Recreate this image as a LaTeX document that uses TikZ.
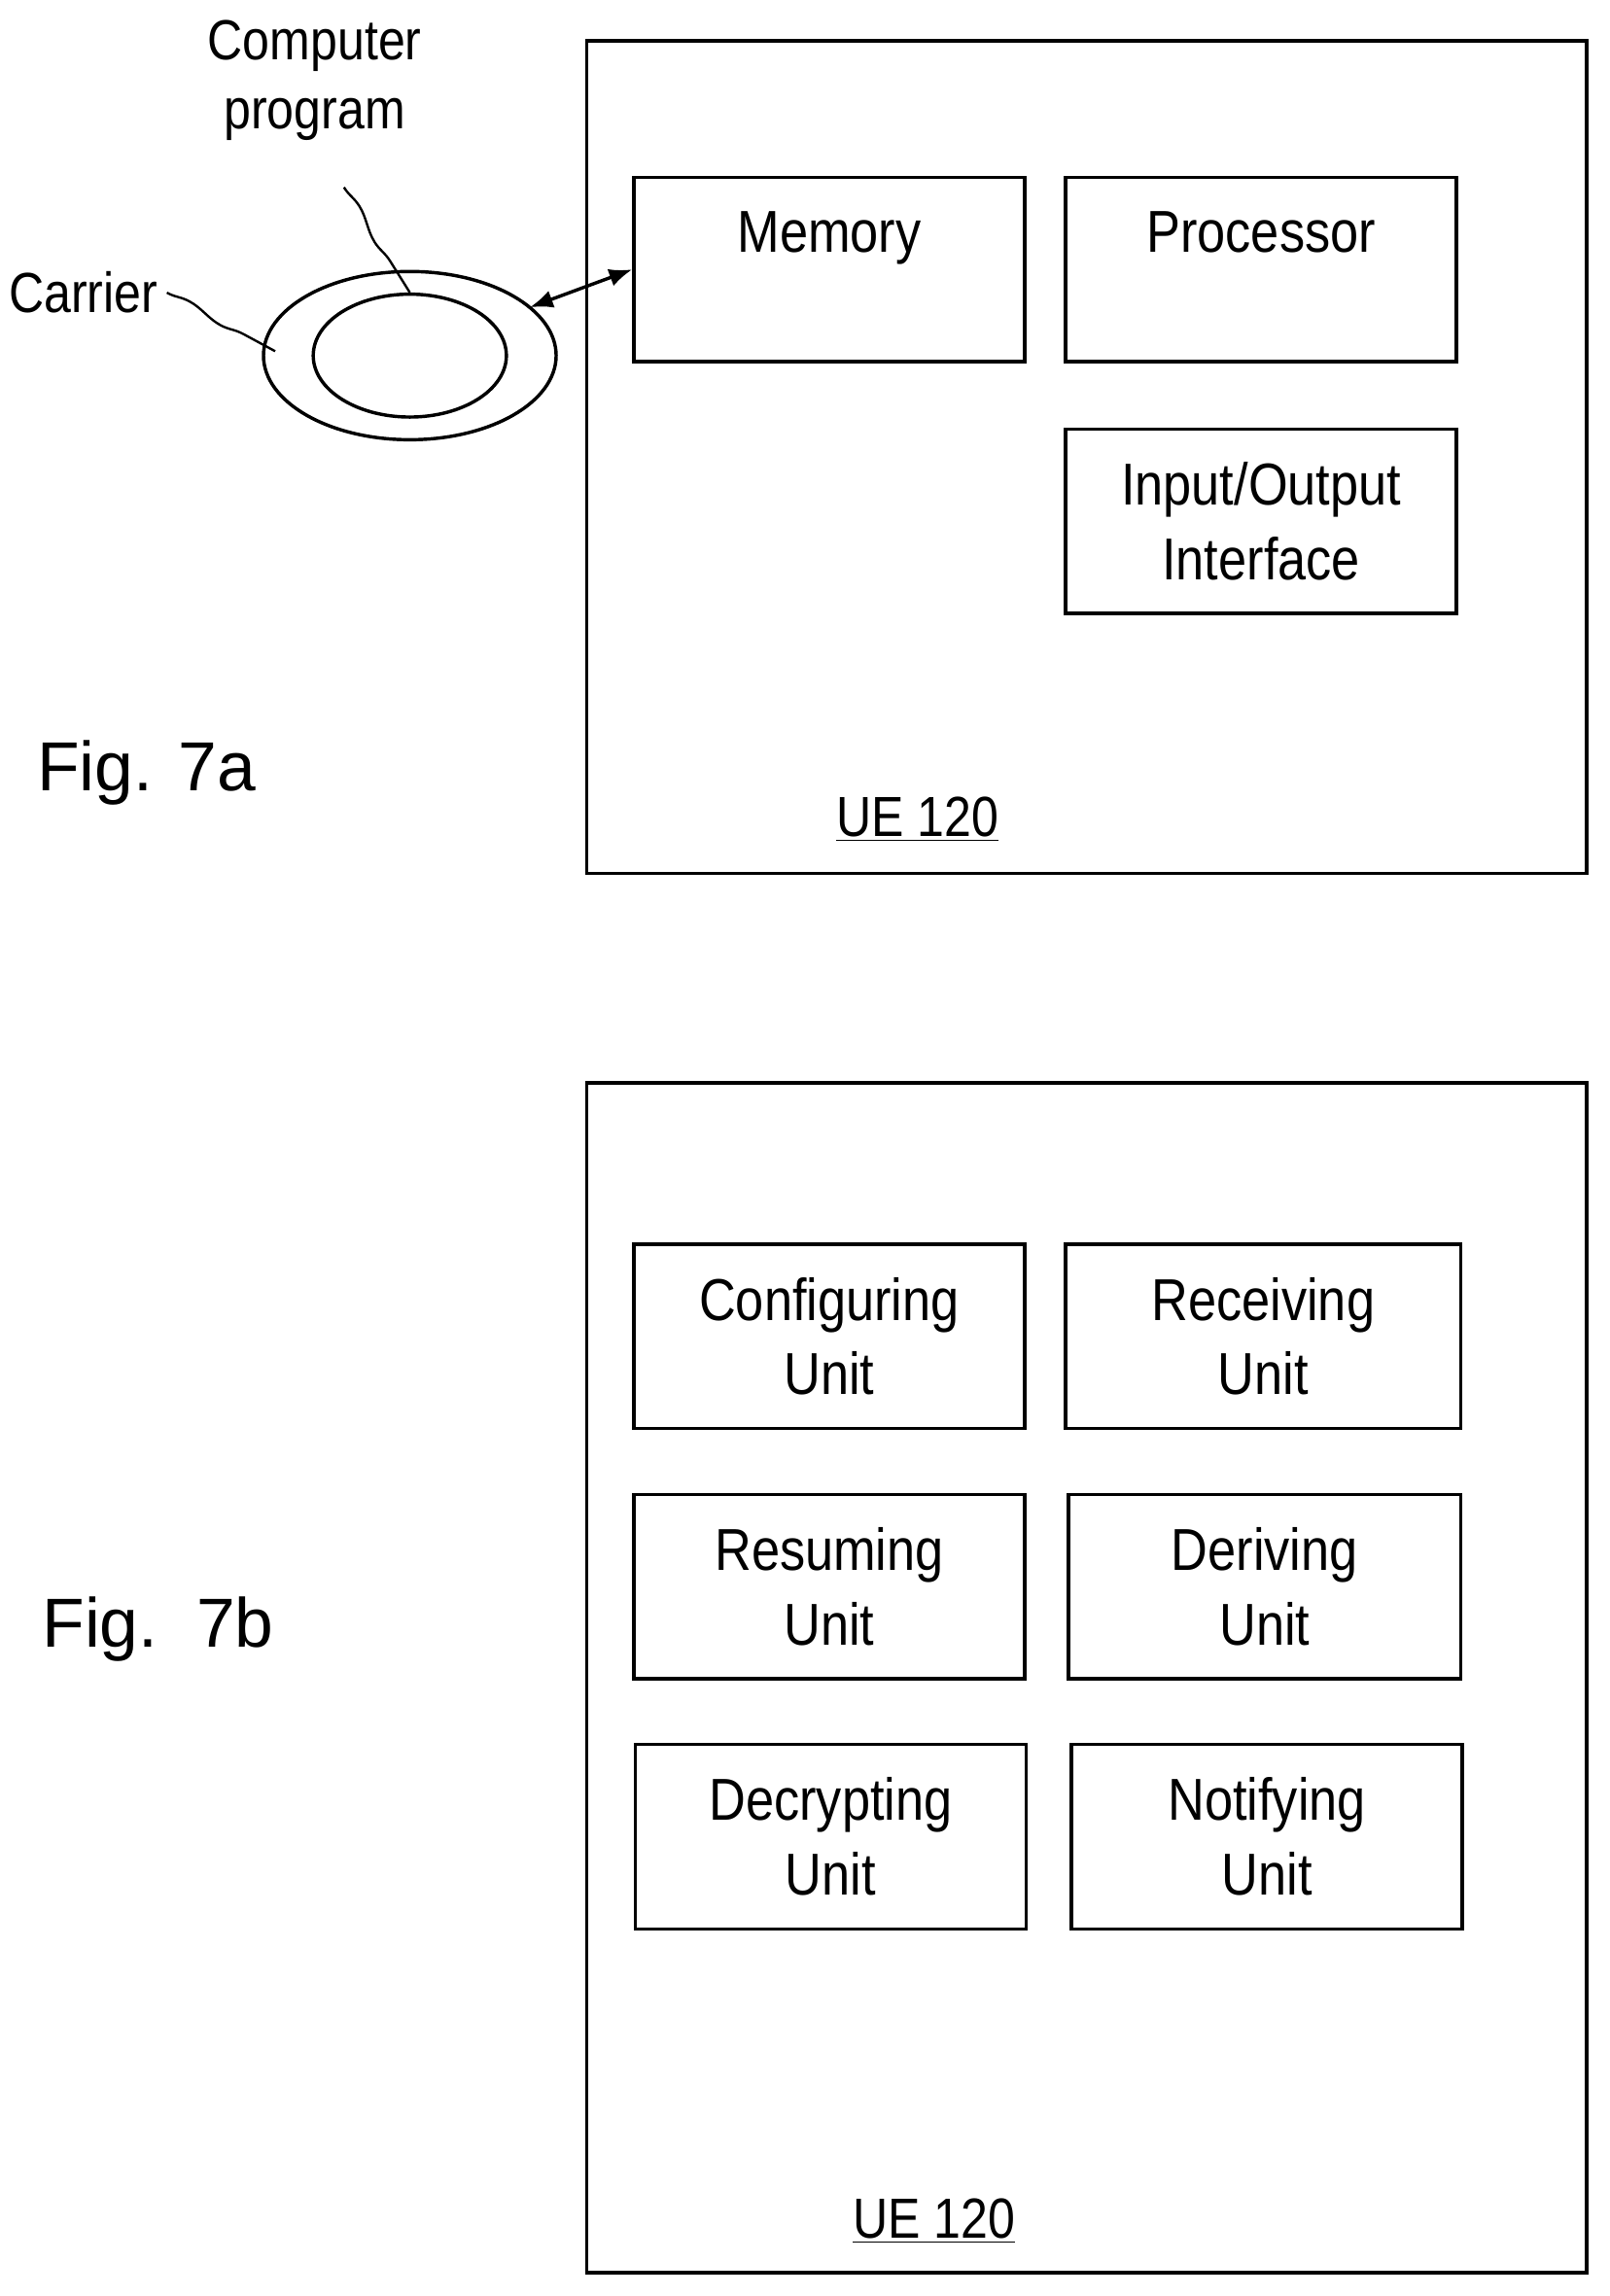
\documentclass[tikz,border=0pt]{standalone}
\usepackage{fontspec}
\setmainfont{Liberation Sans}[FakeStretch=0.86]
\newfontfamily\figfont{Liberation Sans}
\usetikzlibrary{positioning,decorations.pathmorphing,shapes.geometric,arrows.meta}
\tikzset{
  unit/.style={draw,line width=1.3pt,minimum width=5.34cm,minimum height=2.52cm,
    align=center,font=\fontsize{23}{29}\selectfont},
  frame/.style={draw,line width=1.3pt},
  lbl/.style={font=\fontsize{22}{27}\selectfont,align=center},
  figlbl/.style={font=\figfont\fontsize{27}{32}\selectfont},
  squiggle/.style={decorate,decoration={snake,amplitude=1.2pt,segment length=30pt},line width=0.9pt}
}
\begin{document}
\begin{tikzpicture}[x=0.02cm,y=-0.02cm]
  \useasboundingbox (0,0) rectangle (1100,1569);

  % Fig. 7a
  \draw [frame] (401,28) rectangle (1084,597);
  \node [unit,anchor=north west] (memory) at (432,120) {Memory\\ \mbox{}};
  \node [unit,anchor=north west] (proc) at (727,120) {Processor\\ \mbox{}};
  \node [unit,anchor=north west] (io) at (727,292) {Input/Output\\Interface};
  \node [lbl] (ue1) at (627,560) {\underline{UE 120}};
  \node [figlbl] (fig1) at (100,528) {Fig. 7a};

  \node [draw,ellipse,line width=1.3pt,minimum width=4cm,minimum height=2.3cm,
         inner sep=0pt] (carrierdisk) at (280,243) {};
  \node [draw,ellipse,line width=1.3pt,minimum width=2.64cm,minimum height=1.68cm,
         inner sep=0pt] (prog) at (280,243) {};
  \coordinate (disktip) at (362,210);
  \draw [{Latex[length=9pt,width=7pt]}-{Latex[length=9pt,width=7pt]},line width=1.3pt]
    (disktip) -- (memory.west);

  \node [lbl] (cp) at (215,55) {Computer\\program};
  \coordinate (cpend) at (235,128);
  \draw [squiggle] (cpend) -- (prog.north);
  \node [lbl,anchor=east] (carrier) at (114,200) {Carrier};
  \coordinate (ring) at (188,240);
  \draw [squiggle] (carrier.east) -- (ring);

  % Fig. 7b
  \draw [frame] (401,740) rectangle (1084,1553);
  \node [unit,anchor=north west] (conf) at (432,849) {Configuring\\Unit};
  \node [unit,anchor=north west,minimum width=5.4cm] (recv) at (727,849) {Receiving\\Unit};
  \node [unit,anchor=north west] (res) at (432,1020) {Resuming\\Unit};
  \node [unit,anchor=north west,minimum width=5.36cm] (der) at (729,1020) {Deriving\\Unit};
  \node [unit,anchor=north west] (dec) at (433,1191) {Decrypting\\Unit};
  \node [unit,anchor=north west] (notif) at (731,1191) {Notifying\\Unit};
  \node [lbl] (ue2) at (638,1518) {\underline{UE 120}};
  \node [figlbl] (fig2) at (108,1113) {Fig.\ \ 7b};
\end{tikzpicture}
\end{document}
